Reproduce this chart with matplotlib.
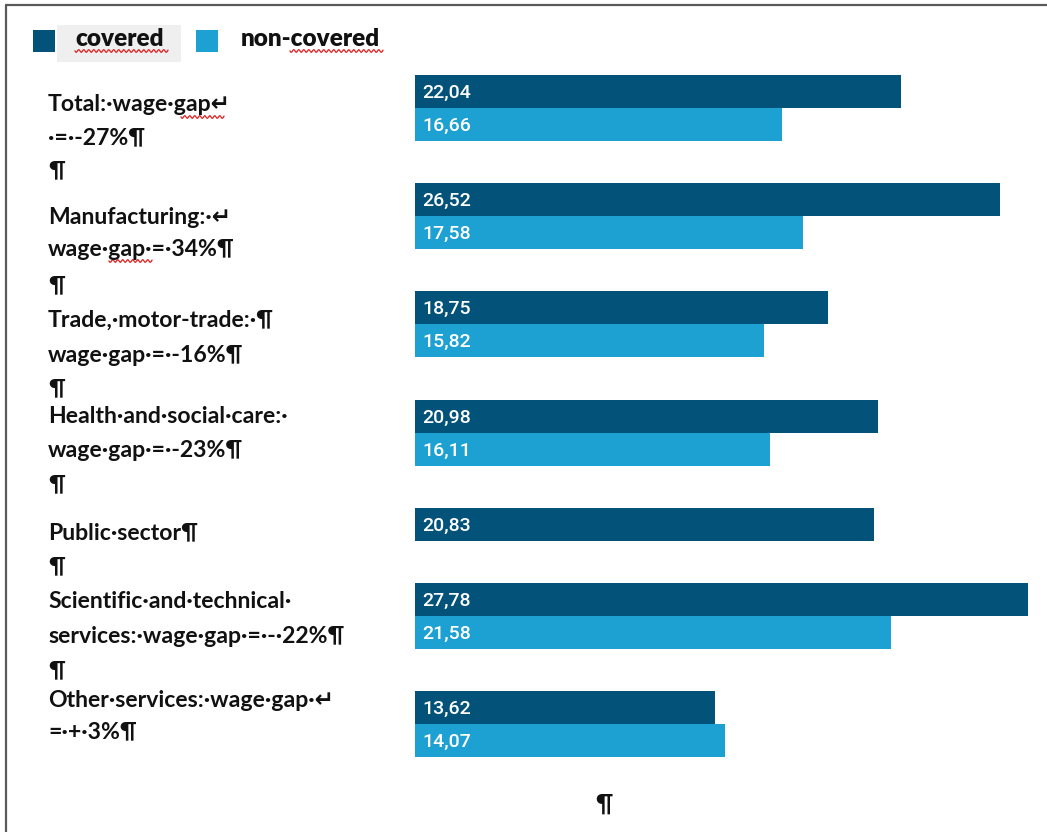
import numpy as np
import matplotlib
matplotlib.use("Agg")
import matplotlib.pyplot as plt
from matplotlib.patches import Rectangle

# ---------------- data ----------------
sectors = ["Total", "Manufacturing", "Trade, motor trade", "Health and social care",
           "Public sector", "Scientific and technical services", "Other services"]
covered = [22.04, 26.52, 18.75, 20.98, 20.83, 27.78, 13.62]
non_covered = [16.66, 17.58, 15.82, 16.11, None, 21.58, 14.07]
series_names = ["covered", "non-covered"]

# text lines shown on the left (Word document with formatting marks)
label_lines = [
    ["Total:·wage·gap↵", "·=·-27%¶", "¶"],
    ["Manufacturing:·↵", "wage·gap·=·34%¶", "¶"],
    ["Trade,·motor-trade:·¶", "wage·gap·=·-16%¶", "¶"],
    ["Health·and·social·care:·", "wage·gap·=·-23%¶", "¶"],
    ["Public·sector¶", "¶"],
    ["Scientific·and·technical·", "services:·wage·gap·=·-·22%¶", "¶"],
    ["Other·services:·wage·gap·↵", "=·+·3%¶"],
]

# ---------------- layout ----------------
W, H = 1047, 832
DARK = "#02527A"
LIGHT = "#1DA1D2"
group_centers = [108, 216, 324, 433, 541, 616, 724]   # pixel rows of group centers
bar_h = 33
x0_px = 415
px_per_unit = 22.05

label_baselines = [
    [111, 144, 177],
    [224, 256, 292],
    [327, 362, 395],
    [423, 457, 491],
    [539, 573],
    [608, 643, 677],
    [707, 738],
]

fig = plt.figure(figsize=(W / 100, H / 100), dpi=100)
fig.patch.set_facecolor("white")

# bar axes: x in data units, y in pixel rows (inverted)
ax_left = x0_px / W
ax = fig.add_axes([ax_left, 0, 1 - ax_left, 1])
ax.set_xlim(0, (W - x0_px) / px_per_unit)
ax.set_ylim(H, 0)
ax.axis("off")

cov_y = [c - bar_h / 2 for c in group_centers]
ax.barh(cov_y, covered, height=bar_h, color=DARK, edgecolor="none")
nc_idx = [i for i, v in enumerate(non_covered) if v is not None]
nc_y = [group_centers[i] + bar_h / 2 for i in nc_idx]
nc_v = [non_covered[i] for i in nc_idx]
ax.barh(nc_y, nc_v, height=bar_h, color=LIGHT, edgecolor="none")

lab_font = dict(family=["Roboto", "DejaVu Sans"], fontsize=14, fontweight="medium",
                color="white", va="center", ha="left")
off = 7 / px_per_unit
for y, v in zip(cov_y, covered):
    ax.text(off, y + 1, f"{v:.2f}".replace(".", ","), **lab_font)
for y, v in zip(nc_y, nc_v):
    ax.text(off, y + 1, f"{v:.2f}".replace(".", ","), **lab_font)

# overlay axes in pixel coordinates for document text
ov = fig.add_axes([0, 0, 1, 1], facecolor="none")
ov.set_xlim(0, W)
ov.set_ylim(H, 0)
ov.axis("off")

# frame (top and left edges of screenshot)
ov.plot([5, W], [5, 5], color="#5a5a5a", lw=1.6, solid_capstyle="butt")
ov.plot([5.5, 5.5], [5, H], color="#5a5a5a", lw=1.6, solid_capstyle="butt")

# legend
ov.add_patch(Rectangle((57, 25), 124, 37, color="#EFEFEF", lw=0))
ov.add_patch(Rectangle((33, 30), 22, 22, color=DARK, lw=0))
ov.add_patch(Rectangle((196, 30), 22, 22, color=LIGHT, lw=0))
leg_font = dict(family=["Lato", "DejaVu Sans"], fontweight="heavy", fontsize=17.5,
                color="#111111", va="baseline", ha="left")
ov.text(75, 46, series_names[0], **leg_font)
ov.text(241, 46, series_names[1], **leg_font)

def squiggle(x0, x1, y0):
    xs = np.linspace(x0, x1, int((x1 - x0) * 3))
    ys = y0 + 1.3 * np.sin(2 * np.pi * (xs - x0) / 5.0)
    ov.plot(xs, ys, color="#E02020", lw=0.9)

squiggle(75, 168, 51)
squiggle(290, 383, 51)

txt_font = dict(family=["Lato", "DejaVu Sans"], fontweight="bold", fontsize=16.6,
                color="#111111", va="baseline", ha="left")
for lines, bases in zip(label_lines, label_baselines):
    for line, b in zip(lines, bases):
        ov.text(48, b, line, **txt_font)

squiggle(181, 224, 117)
squiggle(109, 152, 261)

ov.text(604, 812, "¶", family=["Lato", "DejaVu Sans"], fontweight="bold",
        fontsize=17, color="#111111", va="baseline", ha="center")

fig.savefig("out.png", dpi=100, facecolor="white")
